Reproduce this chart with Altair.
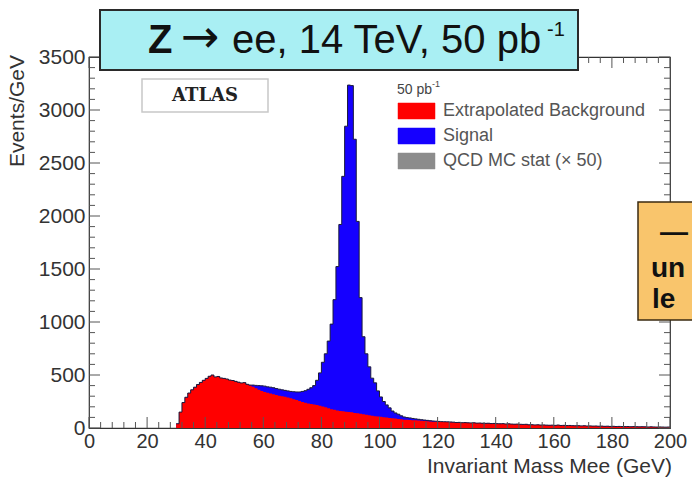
import altair as alt
import pandas as pd

# ---- data ----
bin_lo = list(range(30, 200))          # 1 GeV bins, 30..200 GeV

bkg = [40, 150, 240, 290, 330, 360, 385, 410, 430, 450,
       468, 488, 500, 482, 486, 472, 468, 462, 452, 448,
       440, 432, 425, 428, 412, 400, 390, 375, 362, 348,
       340, 332, 325, 318, 312, 305, 300, 294, 288, 280,
       272, 264, 255, 246, 238, 232, 226, 222, 218, 210,
       202, 195, 186, 178, 171, 166, 161, 157, 154, 151,
       148, 142, 138, 134, 130, 124, 120, 116, 112, 108,
       105, 102, 98, 95, 92, 89, 86, 82, 79, 77,
       75, 73, 72, 70, 68, 66, 64, 62, 60, 59,
       58, 57, 56, 56, 55, 54, 52, 53, 50, 51,
       49, 48, 49, 46, 47, 45, 44, 45, 42, 43,
       41, 40, 41, 38, 39, 37, 36, 37, 35, 34,
       35, 30, 31, 29, 30, 28, 29, 27, 26, 27,
       25, 28, 24, 25, 23, 24, 22, 21, 22, 20,
       21, 19, 20, 18, 19, 17, 18, 16, 17, 15,
       16, 14, 15, 14, 13, 14, 12, 13, 12, 11,
       12, 11, 10, 11, 10, 9, 10, 9, 8, 9]

sig_55_125 = [5, 15, 27, 38, 50, 55, 56, 60, 62, 60,
              61, 60, 61, 62, 65, 70, 76, 85, 99, 114,
              133, 154, 178, 232, 310, 418, 505, 634, 802, 1040,
              1357, 1759, 2217, 2693, 3084, 3082, 2582, 1811, 1096, 731,
              576, 457, 354, 314, 242, 188, 148, 120, 95, 68,
              53, 44, 33, 25, 21, 20, 17, 14, 12, 10,
              9, 8, 7, 6, 5, 4, 3, 3, 2, 2, 1]
sig = [0] * 25 + sig_55_125 + [0] * 74

x_major = list(range(0, 201, 20))
x_minor = [v for v in range(0, 201, 4) if v % 20]
y_major = list(range(0, 3501, 500))
y_minor = [v for v in range(0, 3501, 100) if v % 500]

legend_labels = ["Extrapolated Background", "Signal", "QCD MC stat (\u00d7 50)"]
legend_colors = ["#ff0000", "#1500ff", "#8c8c8c"]

assert len(bkg) == len(bin_lo) and len(sig) == len(bin_lo)

total = [b + s for b, s in zip(bkg, sig)]
hist = pd.DataFrame({"m": bin_lo + [200], "bkg": bkg + [bkg[-1]], "tot": total + [total[-1]]})

W, H = 581, 371
FONT = "Liberation Sans"
xs = alt.Scale(domain=[0, 200], nice=False, zero=False)
ys = alt.Scale(domain=[0, 3500], nice=False)
one = pd.DataFrame({"a": [0]})

ax_x = alt.Axis(values=x_major, labelFontSize=20, labelFont=FONT, labelColor="#333",
                ticks=False, domain=False, grid=False, labelFlush=False,
                labelOverlap=False, labelPadding=3, title=None)
ax_y = alt.Axis(values=y_major, labelFontSize=21, labelFont=FONT, labelColor="#333",
                ticks=False, domain=False, grid=False, labelPadding=4, title=None,
                format="d", labelOverlap=False)

base = alt.Chart(hist)
blue = base.mark_area(interpolate="step-after", color="#1500ff").encode(
    x=alt.X("m:Q", scale=xs, axis=ax_x), y=alt.Y("tot:Q", scale=ys, axis=ax_y))
red = base.mark_area(interpolate="step-after", color="#ff0000").encode(
    x=alt.X("m:Q", scale=xs, axis=ax_x), y=alt.Y("bkg:Q", scale=ys, axis=ax_y))
outline = base.mark_line(interpolate="step-after", color="#1a1a3a", strokeWidth=1).encode(
    x=alt.X("m:Q", scale=xs, axis=ax_x), y=alt.Y("tot:Q", scale=ys, axis=ax_y))


def yticks(vals, length):
    d = alt.Chart(pd.DataFrame({"v": vals}))
    left = d.mark_rule(color="#555", strokeWidth=1).encode(
        y=alt.Y("v:Q", scale=ys, axis=ax_y), x=alt.value(0), x2=alt.value(length))
    right = d.mark_rule(color="#555", strokeWidth=1).encode(
        y=alt.Y("v:Q", scale=ys, axis=ax_y), x=alt.value(W - length), x2=alt.value(W))
    return [left, right]


def xticks(vals, length):
    d = alt.Chart(pd.DataFrame({"v": vals}))
    bottom = d.mark_rule(color="#555", strokeWidth=1).encode(
        x=alt.X("v:Q", scale=xs, axis=ax_x), y=alt.value(H - length), y2=alt.value(H))
    top = d.mark_rule(color="#555", strokeWidth=1).encode(
        x=alt.X("v:Q", scale=xs, axis=ax_x), y=alt.value(0), y2=alt.value(length))
    return [bottom, top]


ticks = yticks(y_major, 11) + yticks(y_minor, 6) + xticks(x_major, 11) + xticks(x_minor, 6)


def txt(s, x, y, size, align="left", baseline="middle", weight="normal", color="#333",
        font=FONT, angle=0):
    kw = dict(align=align, baseline=baseline, fontSize=size, fontWeight=weight, color=color, font=font)
    if angle:
        kw["angle"] = angle
    return alt.Chart(one).mark_text(**kw).encode(x=alt.value(x), y=alt.value(y), text=alt.value(s))


def box(x1, x2, y1, y2, fill, stroke, sw=1.0):
    return alt.Chart(one).mark_rect(fill=fill, stroke=stroke, strokeWidth=sw).encode(
        x=alt.value(x1), x2=alt.value(x2), y=alt.value(y1), y2=alt.value(y2))


annot = [
    # axis titles
    txt("Events/GeV", -71, -2, 21, align="right", angle=270, color="#333"),
    txt("Invariant Mass Mee (GeV)", 583, 410, 21, align="right", color="#333"),
    # ATLAS box
    box(53, 179, 22, 55, "white", "#c8c8c8", 1.5),
    txt("ATLAS", 116, 39, 18, align="center", weight="bold", color="#222", font="DejaVu Serif"),
    # legend
    txt("50 pb", 308, 33, 14, color="#444"),
    txt("-1", 343, 27, 9, color="#444"),
]
for i, (lab, col) in enumerate(zip(legend_labels, legend_colors)):
    yc = 54 + i * 25
    annot.append(box(309, 346, yc - 8, yc + 8, col, col, 0.5))
    annot.append(txt(lab, 354, yc, 18, color="#555"))

# title box
annot += [
    box(11, 489, -47, 13, "#a9eff3", "#2a2a2a", 2),
    txt("Z", 59, -4, 40, baseline="alphabetic", weight="bold", color="#111"),
    txt("\u2192", 92, -5, 46, baseline="alphabetic", color="#111", font="DejaVu Sans"),
    txt("ee, 14 TeV, 50 pb", 143, -4, 40, baseline="alphabetic", color="#111"),
    txt("-1", 458, -21, 20, baseline="alphabetic", color="#111"),
    # orange box on the right (cut off by the page edge)
    box(549, 640, 145, 263, "#f9c56c", "#3a2a10", 1.5),
    txt("\u2014", 571, 176, 28, weight="bold", color="#111"),
    txt("un", 562, 212, 28, weight="bold", color="#111"),
    txt("le", 563, 243, 28, weight="bold", color="#111"),
]

chart = alt.layer(blue, red, outline, *ticks, *annot).properties(
    width=W, height=H,
    autosize=alt.AutoSizeParams(type="none"),
    padding={"left": 89, "top": 57, "right": 692 - 89 - W, "bottom": 480 - 57 - H},
    background="white",
).configure_view(stroke="#333", strokeWidth=1.2)

chart.save("out.html", embed_options={"renderer": "svg", "actions": False})
